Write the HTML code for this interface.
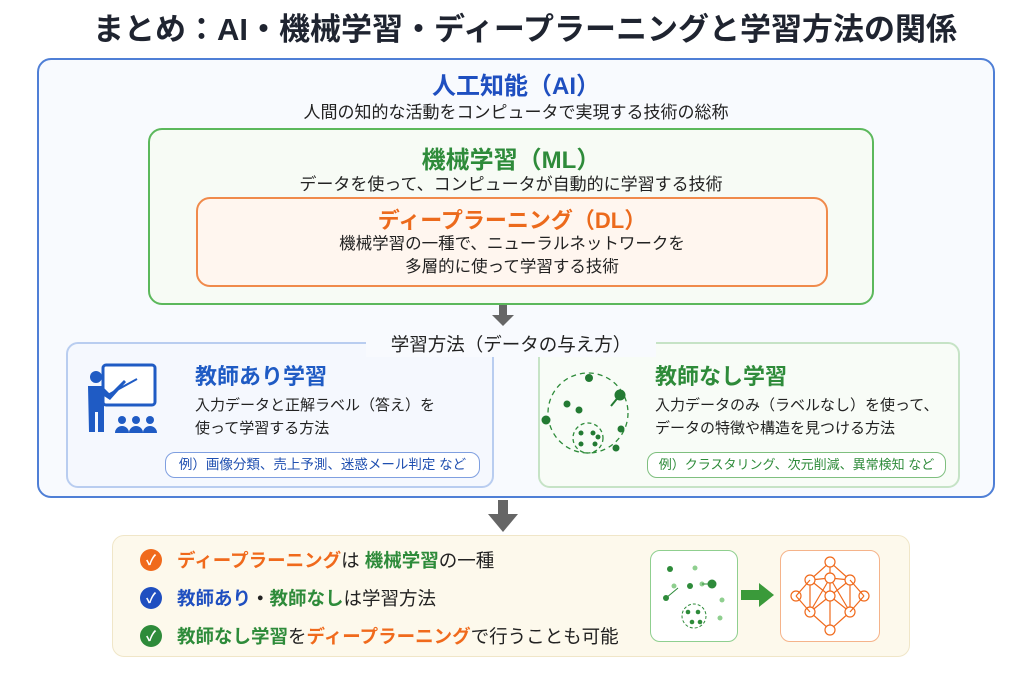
<!DOCTYPE html>
<html><head><meta charset="utf-8"><style>
*{margin:0;padding:0;box-sizing:border-box}
body{width:1024px;height:683px;background:#fff;position:relative;overflow:hidden;font-family:"Liberation Sans","Noto Sans CJK JP",sans-serif;color:#222}
.a{position:absolute;white-space:nowrap}
.c{text-align:center}
.b{font-weight:bold}
.box{position:absolute;border-radius:14px}
.ck{position:absolute;width:22px;height:22px;border-radius:50%;color:#fff;font-size:14px;line-height:22px;text-align:center;font-weight:bold}
</style></head><body>
<div class="a c b" style="left:0;width:1050px;top:4px;font-size:31px;color:#1f2430">まとめ：AI・機械学習・ディープラーニングと学習方法の関係</div>

<div class="box" style="left:37px;top:58px;width:958px;height:440px;border:2px solid #4f7fd6;background:#f8fafe"></div>
<div class="a c b" style="left:37px;width:958px;top:66px;font-size:24px;color:#1f4fc0">人工知能（AI）</div>
<div class="a c" style="left:37px;width:958px;top:98px;font-size:17px">人間の知的な活動をコンピュータで実現する技術の総称</div>

<div class="box" style="left:148px;top:128px;width:726px;height:177px;border:2px solid #5cb85c;background:#f7fbf5"></div>
<div class="a c b" style="left:148px;width:726px;top:140px;font-size:24px;color:#2e8b3a">機械学習（ML）</div>
<div class="a c" style="left:148px;width:726px;top:170px;font-size:17px">データを使って、コンピュータが自動的に学習する技術</div>

<div class="box" style="left:196px;top:197px;width:632px;height:90px;border:2px solid #f08a4b;background:#fff6ef"></div>
<div class="a c b" style="left:196px;width:632px;top:203px;font-size:22px;color:#ec6a1c">ディープラーニング（DL）</div>
<div class="a c" style="left:196px;width:632px;top:233px;font-size:16.5px;line-height:23px">機械学習の一種で、ニューラルネットワークを<br>多層的に使って学習する技術</div>

<svg class="a" style="left:490px;top:305px" width="26" height="22"><rect x="9" y="0" width="8" height="10" fill="#666"/><polygon points="2,10 24,10 13,21" fill="#666"/></svg>

<div class="box" style="left:66px;top:342px;width:428px;height:146px;border:2px solid #b9cdf0;background:#f5f8fe;border-radius:12px"></div>
<div class="box" style="left:538px;top:342px;width:422px;height:146px;border:2px solid #c6e3c6;background:#f8fcf7;border-radius:12px"></div>
<div class="a c" style="left:366px;width:290px;top:331px;font-size:18.5px;background:#f8fafe">学習方法（データの与え方）</div>

<svg class="a" style="left:84px;top:362px" width="80" height="72">
<rect x="19" y="3" width="52" height="40" rx="3" fill="#fff" stroke="#1f5bc4" stroke-width="3"/>
<circle cx="12" cy="15" r="6" fill="#1f5bc4"/>
<path d="M4 24h14l8 8 14-14 2 2-16 18-6-4v36h-6v-20h-3v20h-6z" fill="#1f5bc4"/>
<line x1="22" y1="34" x2="53" y2="17" stroke="#1f5bc4" stroke-width="2"/>
<g fill="#1f5bc4"><circle cx="38" cy="58" r="4"/><circle cx="52" cy="58" r="4"/><circle cx="66" cy="58" r="4"/>
<path d="M31 71a7 7 0 0 1 14 0z M45 71a7 7 0 0 1 14 0z M59 71a7 7 0 0 1 14 0z"/></g></svg>

<div class="a b" style="left:195px;top:359px;font-size:22px;color:#1f5bc4">教師あり学習</div>
<div class="a" style="left:195px;top:394px;font-size:15px;line-height:23px">入力データと正解ラベル（答え）を<br>使って学習する方法</div>
<div class="a c" style="left:165px;top:452px;width:315px;height:26px;border:1.5px solid #7f9fe0;border-radius:10px;background:#fff;font-size:13.5px;line-height:23px;color:#1f4fb0">例）画像分類、売上予測、迷惑メール判定 など</div>

<svg class="a" style="left:538px;top:366px" width="100" height="90">
<circle cx="50" cy="47" r="40" fill="none" stroke="#2e8b3a" stroke-width="1.3" stroke-dasharray="5 4"/>
<circle cx="50" cy="72" r="15" fill="none" stroke="#2e8b3a" stroke-width="1.3" stroke-dasharray="4 3"/>
<g fill="#237a33"><circle cx="51" cy="12" r="4"/><circle cx="8" cy="54" r="4.5"/><circle cx="29" cy="38" r="3.5"/><circle cx="41" cy="44" r="3.5"/><circle cx="82" cy="29" r="5.5"/><circle cx="83" cy="63" r="3.5"/><circle cx="78" cy="82" r="3.5"/>
<circle cx="43" cy="67" r="2.5"/><circle cx="55" cy="67" r="2.5"/><circle cx="43" cy="78" r="2.5"/><circle cx="57" cy="78" r="2.5"/><circle cx="60" cy="71" r="2.5"/></g>
<line x1="82" y1="29" x2="73" y2="40" stroke="#237a33" stroke-width="2"/></svg>

<div class="a b" style="left:655px;top:359px;font-size:22px;color:#2e8b3a">教師なし学習</div>
<div class="a" style="left:655px;top:394px;font-size:15px;line-height:23px">入力データのみ（ラベルなし）を使って、<br>データの特徴や構造を見つける方法</div>
<div class="a c" style="left:647px;top:452px;width:299px;height:26px;border:1.5px solid #7fbf7f;border-radius:10px;background:#fff;font-size:13px;line-height:23px;color:#2e8b3a">例）クラスタリング、次元削減、異常検知 など</div>

<svg class="a" style="left:487px;top:500px" width="32" height="34"><rect x="11" y="0" width="10" height="14" fill="#666"/><polygon points="1,14 31,14 16,32" fill="#666"/></svg>

<div class="box" style="left:112px;top:535px;width:798px;height:122px;border:1px solid #f0e6c8;background:#fdf9ec;border-radius:12px"></div>
<div class="ck" style="left:140px;top:549px;background:#f06a1c">✓</div>
<div class="ck" style="left:140px;top:587px;background:#1f4fc0">✓</div>
<div class="ck" style="left:140px;top:625px;background:#2e8b3a">✓</div>
<div class="a b" style="left:177px;top:547px;font-size:18.5px"><span style="color:#f06a1c">ディープラーニング</span><span style="font-weight:normal">は</span> <span style="color:#2e8b3a">機械学習</span><span style="font-weight:normal">の一種</span></div>
<div class="a b" style="left:177px;top:585px;font-size:18.5px"><span style="color:#1f4fc0">教師あり</span>・<span style="color:#2e8b3a">教師なし</span><span style="font-weight:normal">は学習方法</span></div>
<div class="a b" style="left:177px;top:623px;font-size:18.5px"><span style="color:#2e8b3a">教師なし学習</span><span style="font-weight:normal">を</span><span style="color:#f06a1c">ディープラーニング</span><span style="font-weight:normal">で行うことも可能</span></div>

<div class="box" style="left:650px;top:550px;width:88px;height:92px;border:1.5px solid #8fcf8f;background:#fff;border-radius:10px"></div>
<svg class="a" style="left:650px;top:550px" width="88" height="92">
<circle cx="44" cy="66" r="12" fill="none" stroke="#2e8b3a" stroke-dasharray="3 2"/>
<g fill="#2e8b3a"><circle cx="20" cy="19" r="3"/><circle cx="16" cy="48" r="3"/><circle cx="40" cy="36" r="3"/><circle cx="62" cy="34" r="4.5"/><circle cx="38" cy="62" r="2.3"/><circle cx="48" cy="62" r="2.3"/><circle cx="42" cy="72" r="2.3"/><circle cx="50" cy="72" r="2.3"/></g>
<g fill="#8fcf8f"><circle cx="45" cy="18" r="2.5"/><circle cx="24" cy="36" r="2.5"/><circle cx="72" cy="50" r="2.5"/><circle cx="70" cy="68" r="2.5"/><circle cx="52" cy="34" r="2.5"/></g>
<path d="M16 48 L28 38 M52 34 L62 34" stroke="#2e8b3a"/></svg>
<svg class="a" style="left:741px;top:582px" width="34" height="26"><rect x="0" y="8" width="18" height="10" fill="#3a9a3a"/><polygon points="18,1 33,13 18,25" fill="#3a9a3a"/></svg>
<div class="box" style="left:780px;top:550px;width:100px;height:92px;border:1.5px solid #f5b38a;background:#fff;border-radius:10px"></div>
<svg class="a" style="left:780px;top:550px" width="100" height="92" stroke="#f06a1c" fill="#fff" stroke-width="1.2">
<g><path d="M30 30L50 12L70 30M30 30L50 46L70 30M30 30L70 62M70 30L30 62M30 30L30 62M70 30L70 62M30 62L50 80L70 62M30 62L50 46L70 62M50 12L50 46L50 80M30 30L50 28M70 30L50 28M50 28L30 62M50 28L70 62"/></g>
<circle cx="50" cy="12" r="5"/><circle cx="30" cy="30" r="5"/><circle cx="70" cy="30" r="5"/><circle cx="50" cy="28" r="5"/><circle cx="50" cy="46" r="5"/><circle cx="30" cy="62" r="5"/><circle cx="70" cy="62" r="5"/><circle cx="50" cy="80" r="5"/><circle cx="16" cy="46" r="5"/><circle cx="84" cy="46" r="5"/>
<path d="M16 46L30 30M16 46L30 62M84 46L70 30M84 46L70 62" fill="none"/></svg>
</body></html>
